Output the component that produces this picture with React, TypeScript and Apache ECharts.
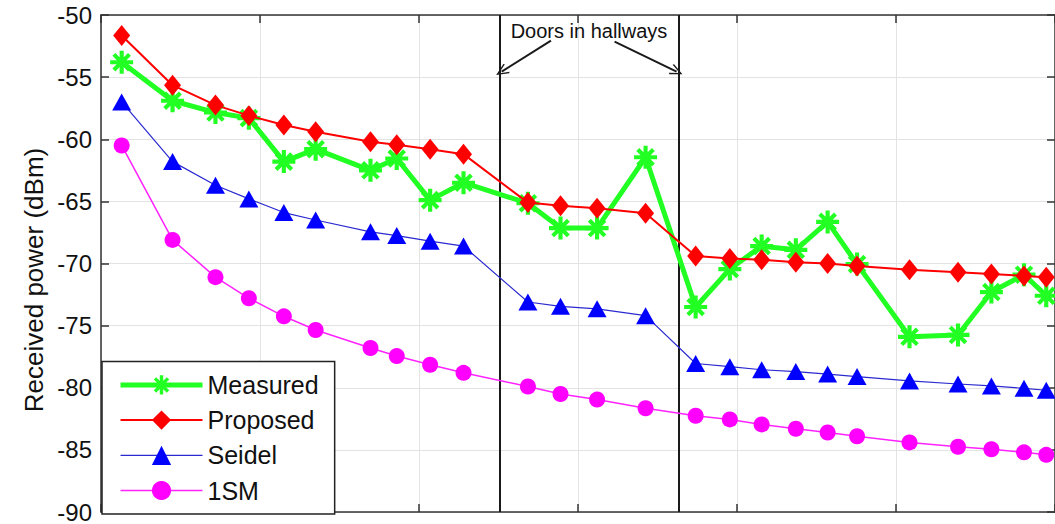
import React, { useEffect, useRef } from "react";
import * as echarts from "echarts";

const xPositions = [1.3, 4.5, 7.2, 9.3, 11.5, 13.5, 16.95, 18.6, 20.7, 22.8, 26.85, 28.9, 31.2, 34.25, 37.4, 39.55, 41.55, 43.7, 45.7, 47.55, 50.85, 53.9, 56.0, 58.05, 59.45];
const measured = [-53.8, -56.9, -57.85, -58.3, -61.8, -60.8, -62.5, -61.55, -64.9, -63.5, -65.15, -67.15, -67.15, -61.45, -73.5, -70.45, -68.6, -68.9, -66.65, -70.05, -75.9, -75.75, -72.3, -70.9, -72.6];
const proposed = [-51.65, -55.65, -57.25, -58.1, -58.85, -59.4, -60.2, -60.45, -60.8, -61.2, -65.1, -65.35, -65.55, -65.95, -69.4, -69.6, -69.7, -69.9, -70.0, -70.2, -70.5, -70.7, -70.85, -71.0, -71.1];
const seidel = [-57.0, -61.8, -63.7, -64.8, -65.9, -66.5, -67.45, -67.75, -68.2, -68.6, -73.1, -73.45, -73.65, -74.2, -78.05, -78.3, -78.55, -78.7, -78.9, -79.1, -79.45, -79.7, -79.85, -80.05, -80.2];
const oneSM = [-60.5, -68.1, -71.1, -72.8, -74.25, -75.35, -76.8, -77.45, -78.15, -78.8, -79.9, -80.5, -80.95, -81.65, -82.25, -82.55, -82.95, -83.3, -83.6, -83.9, -84.4, -84.75, -84.95, -85.2, -85.4];

const seriesNames = ["Measured", "Proposed", "Seidel", "1SM"];
const legendLineWidths = [5, 2, 1.2, 1.5];
const doorPositions = [25.07, 36.34];
const yLabel = "Received power (dBm)";
const annotationText = "Doors in hallways";
// arrows: [startX, startY, endX, endY] in data units
const arrowCoords = [
  [28.3, -52.07, 25.2, -54.55],
  [32.3, -52.15, 36.2, -54.55],
];

const starPath =
  "path://M41 0L59 0L59 100L41 100Z M0 41L100 41L100 59L0 59Z M9.7 22.4L22.4 9.7L90.3 77.6L77.6 90.3Z M22.4 90.3L9.7 77.6L77.6 9.7L90.3 22.4Z";
const vArrow = "path://M50 0L100 88L90 96L50 22L10 96L0 88Z";

const FONT = "'Liberation Sans', Arial, Helvetica, sans-serif";

function toPairs(ys: number[]) {
  return ys.map((y, i) => [xPositions[i], y]);
}

export default function App() {
  const ref = useRef<HTMLDivElement>(null);
  useEffect(() => {
    if (!ref.current) return;
    const chart = echarts.init(ref.current, undefined, { renderer: "svg" });
    const axisLineStyle = { color: "#333", width: 1.5 };
    const option: any = {
      animation: false,
      backgroundColor: "#fff",
      textStyle: { fontFamily: FONT },
      grid: { left: 101, top: 15, width: 956, height: 502, containLabel: false },
      xAxis: [
        {
          type: "value",
          min: 0,
          max: 60,
          interval: 10,
          position: "bottom",
          axisLine: { show: true, onZero: false, lineStyle: axisLineStyle },
          axisTick: { show: true, inside: true, length: 8, lineStyle: axisLineStyle },
          axisLabel: { show: false },
          splitLine: { show: true, lineStyle: { color: "#e3e3e3", width: 1 } },
        },
        {
          type: "value",
          min: 0,
          max: 60,
          interval: 10,
          position: "top",
          axisLine: { show: true, onZero: false, lineStyle: axisLineStyle },
          axisTick: { show: true, inside: true, length: 8, lineStyle: axisLineStyle },
          axisLabel: { show: false },
          splitLine: { show: false },
        },
      ],
      yAxis: [
        {
          type: "value",
          min: -90,
          max: -50,
          interval: 5,
          position: "left",
          axisLine: { show: true, onZero: false, lineStyle: axisLineStyle },
          axisTick: { show: true, inside: true, length: 8, lineStyle: axisLineStyle },
          axisLabel: { fontSize: 24, color: "#111", margin: 9, fontFamily: FONT },
          splitLine: { show: true, lineStyle: { color: "#e3e3e3", width: 1 } },
        },
        {
          type: "value",
          min: -90,
          max: -50,
          interval: 5,
          position: "right",
          axisLine: { show: true, onZero: false, lineStyle: axisLineStyle },
          axisTick: { show: true, inside: true, length: 8, lineStyle: axisLineStyle },
          axisLabel: { show: false },
          splitLine: { show: false },
        },
      ],
      legend: {
        type: "plain",
        orient: "vertical",
        left: 102,
        bottom: 10,
        data: seriesNames.map((n, i) => ({ name: n, lineStyle: { width: legendLineWidths[i] } })),
        backgroundColor: "#fff",
        borderColor: "#222",
        borderWidth: 1.5,
        padding: [11, 16, 11, 16],
        itemWidth: 82,
        itemHeight: 24,
        itemGap: 10.2,
        textStyle: { fontSize: 25, color: "#111", fontFamily: FONT, lineHeight: 20 },
        z: 10,
      },
      graphic: [
        {
          type: "text",
          x: 34,
          y: 280,
          rotation: Math.PI / 2,
          style: {
            text: yLabel,
            fontSize: 26,
            fontFamily: FONT,
            fill: "#111",
            align: "center",
            verticalAlign: "middle",
          },
        },
        {
          type: "text",
          x: 589,
          y: 31,
          style: {
            text: annotationText,
            fontSize: 20,
            fontFamily: FONT,
            fill: "#111",
            align: "center",
            verticalAlign: "middle",
          },
          z: 20,
        },
      ],
      series: [
        {
          name: "Measured",
          type: "line",
          data: toPairs(measured),
          symbol: starPath,
          symbolSize: 23,
          color: "#22ff22",
          lineStyle: { color: "#22ff22", width: 5 },
          itemStyle: { color: "#22ff22" },
          z: 3,
          markLine: {
            silent: true,
            symbol: ["none", "none"],
            label: { show: false },
            lineStyle: { color: "#1a1a1a", width: 2, type: "solid" },
            data: doorPositions.map((x) => ({ xAxis: x })),
            z: 1,
          },
        },
        {
          name: "Proposed",
          type: "line",
          data: toPairs(proposed),
          symbol: "diamond",
          symbolSize: [17, 21],
          color: "#ff0000",
          lineStyle: { color: "#ff0000", width: 2 },
          itemStyle: { color: "#ff0000" },
          z: 4,
          markLine: {
            silent: true,
            symbol: ["none", vArrow],
            symbolSize: [11, 13],
            label: { show: false },
            lineStyle: { color: "#1a1a1a", width: 2, type: "solid" },
            data: arrowCoords.map((a) => [
              { coord: [a[0], a[1]] },
              { coord: [a[2], a[3]] },
            ]),
          },
        },
        {
          name: "Seidel",
          type: "line",
          data: toPairs(seidel),
          symbol: "triangle",
          symbolSize: [19, 17],
          color: "#0000ff",
          lineStyle: { color: "#2a2ad0", width: 1.2 },
          itemStyle: { color: "#0000ff" },
          z: 5,
        },
        {
          name: "1SM",
          type: "line",
          data: toPairs(oneSM),
          symbol: "circle",
          symbolSize: 16,
          color: "#ff00ff",
          lineStyle: { color: "#ff22ff", width: 1.5 },
          itemStyle: { color: "#ff00ff" },
          z: 6,
        },
      ],
    };
    chart.setOption(option);
    return () => chart.dispose();
  }, []);
  return (
    <div
      ref={ref}
      style={{ position: "fixed", left: 0, top: 0, width: 1055, height: 524, background: "#fff" }}
    />
  );
}
